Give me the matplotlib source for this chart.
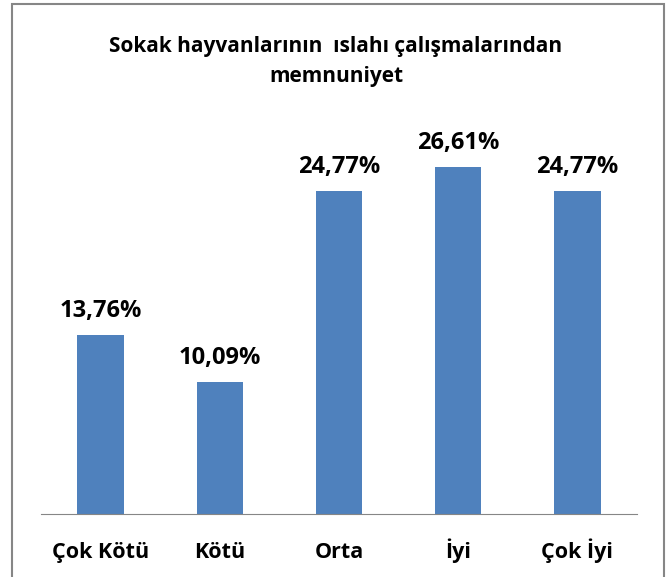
import matplotlib.pyplot as plt
from matplotlib.patches import Rectangle

categories = ["Çok Kötü", "Kötü", "Orta", "İyi", "Çok İyi"]
values = [13.76, 10.09, 24.77, 26.61, 24.77]
value_labels = ["13,76%", "10,09%", "24,77%", "26,61%", "24,77%"]
title_lines = ["Sokak hayvanlarının  ıslahı çalışmalarından", "memnuniyet"]

plt.rcParams['font.family'] = ['Open Sans', 'DejaVu Sans']

fig = plt.figure(figsize=(6.66, 5.77), dpi=100)

# outer chart frame
fig.patches.append(Rectangle((12 / 666, -0.01), 652 / 666, 1 - 4 / 577 + 0.01,
                             transform=fig.transFigure, fill=False,
                             edgecolor="#868686", linewidth=1.5))

ax = fig.add_axes([41 / 666, 63 / 577, 596 / 666, 391 / 577])

x = range(len(categories))
bars = ax.bar(x, values, width=0.39, color="#4F81BD")

# value labels above bars
for b, lab in zip(bars, value_labels):
    ax.annotate(lab, (b.get_x() + b.get_width() / 2, b.get_height()),
                xytext=(0, 13), textcoords="offset points",
                ha="center", va="baseline", fontsize=17, fontweight="bold",
                annotation_clip=False)

# category labels under the axis
for i, cat in zip(x, categories):
    ax.annotate(cat, (i, 0), xycoords=("data", "axes fraction"),
                xytext=(0, -32), textcoords="offset points",
                ha="center", va="baseline", fontsize=15.5, fontweight="bold",
                annotation_clip=False)

ax.set_xlim(-0.5, len(categories) - 0.5)
ax.set_ylim(0, 30)
ax.set_xticks([])
ax.set_yticks([])

for side in ["top", "right", "left"]:
    ax.spines[side].set_visible(False)
ax.spines["bottom"].set_color("#868686")

fig.text(336 / 666, 1 - 52 / 577, title_lines[0], ha="center", va="baseline",
         fontsize=15, fontweight="bold")
fig.text(336 / 666, 1 - 82 / 577, title_lines[1], ha="center", va="baseline",
         fontsize=15, fontweight="bold")

fig.savefig("out.png", dpi=100)
